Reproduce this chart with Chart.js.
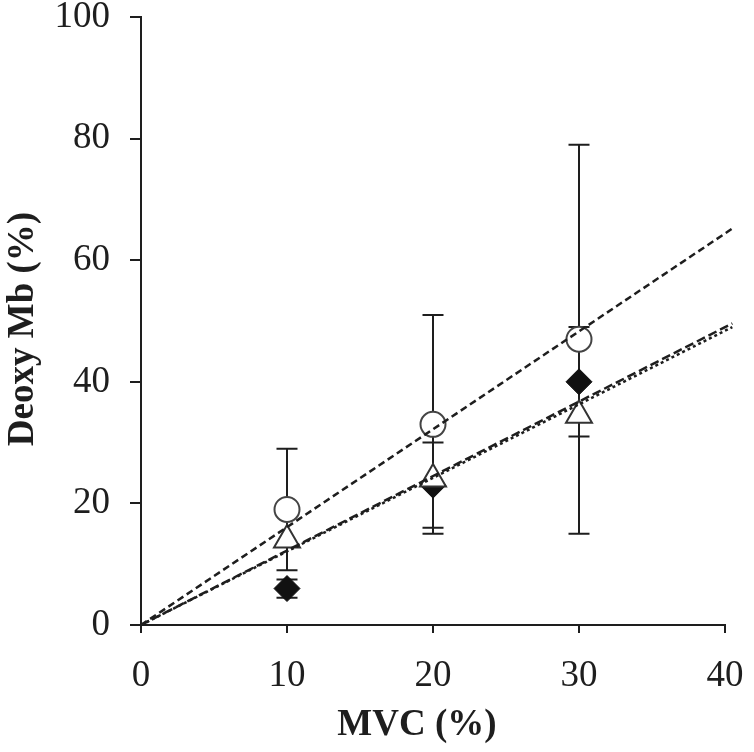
<!DOCTYPE html>
<html>
<head>
<meta charset="utf-8">
<script src="https://cdn.jsdelivr.net/npm/chart.js@4.4.1/dist/chart.umd.min.js"></script>
<style>
    body { margin: 0; background: #fff; }
    #wrap { width: 754px; height: 752px; }
</style>
</head>
<body>
<div id="wrap"><canvas id="mvcChart" width="754" height="752"></canvas></div>
<script>
// MVC levels (%)
const mvc = [10, 20, 30];

// Deoxy Mb (%) per series, with SD
const circleY = [19, 33, 47];
const circleErr = [10, 18, 32];
const triangleY = [14, 24, 34.5];
const diamondY = [6, 23, 40];
const diamondErr = [1.5, 7, 9];

// trend lines through the origin
const fitX = [0, 40.5];
const circleFit = [0, 65.2];
const diamondFit = [0, 49.6];
const triangleFit = [0, 49.0];

const xTitle = 'MVC (%)';
const yTitle = 'Deoxy Mb (%)';

const ink = '#1e1e1e';
const serif = "'Times New Roman', 'Liberation Serif', serif";

function pts(xs, ys) {
    return xs.map((x, i) => ({ x: x, y: ys[i] }));
}

// vertical error bars with caps, drawn under the markers
const errorBars = {
    id: 'errorBars',
    beforeDatasetsDraw(chart) {
        const ctx = chart.ctx;
        const xs = chart.scales.x;
        const ys = chart.scales.y;
        const sets = [[diamondY, diamondErr], [circleY, circleErr]];
        ctx.save();
        ctx.strokeStyle = ink;
        ctx.lineWidth = 2;
        sets.forEach(([vals, errs]) => {
            vals.forEach((v, i) => {
                const px = xs.getPixelForValue(mvc[i]);
                const top = ys.getPixelForValue(v + errs[i]);
                const bot = ys.getPixelForValue(v - errs[i]);
                ctx.beginPath();
                ctx.moveTo(px, top);
                ctx.lineTo(px, bot);
                ctx.moveTo(px - 10.5, top);
                ctx.lineTo(px + 10.5, top);
                ctx.moveTo(px - 10.5, bot);
                ctx.lineTo(px + 10.5, bot);
                ctx.stroke();
            });
        });
        ctx.restore();
    }
};

// axis titles sit a little off-centre toward the origin in the original
const axisTitles = {
    id: 'axisTitles',
    afterDraw(chart) {
        const ctx = chart.ctx;
        const area = chart.chartArea;
        ctx.save();
        ctx.fillStyle = ink;
        ctx.font = 'bold 37px ' + serif;
        ctx.textAlign = 'center';
        ctx.textBaseline = 'middle';
        ctx.fillText(xTitle, (area.left + area.right) / 2 - 16, 725);
        ctx.translate(23, (area.top + area.bottom) / 2 + 8);
        ctx.rotate(-Math.PI / 2);
        ctx.fillText(yTitle, 0, 0);
        ctx.restore();
    }
};

const ctx = document.getElementById('mvcChart').getContext('2d');
new Chart(ctx, {
    type: 'scatter',
    data: {
        datasets: [
            {
                label: 'circle fit',
                data: pts(fitX, circleFit),
                showLine: true,
                borderColor: ink,
                borderWidth: 2.5,
                borderDash: [7, 4],
                pointRadius: 0,
                clip: false,
                order: 0
            },
            {
                label: 'diamond fit',
                data: pts(fitX, diamondFit),
                showLine: true,
                borderColor: ink,
                borderWidth: 2.5,
                borderDash: [9, 4],
                pointRadius: 0,
                clip: false,
                order: 0
            },
            {
                label: 'triangle fit',
                data: pts(fitX, triangleFit),
                showLine: true,
                borderColor: ink,
                borderWidth: 2.5,
                borderDash: [3, 3],
                pointRadius: 0,
                clip: false,
                order: 0
            },
            {
                label: 'triangle',
                data: pts(mvc, triangleY),
                pointStyle: 'triangle',
                pointRadius: 15,
                pointBackgroundColor: '#fff',
                pointBorderColor: '#333',
                pointBorderWidth: 2,
                order: 1
            },
            {
                label: 'circle',
                data: pts(mvc, circleY),
                pointStyle: 'circle',
                pointRadius: 12.5,
                pointBackgroundColor: '#fff',
                pointBorderColor: '#444',
                pointBorderWidth: 2,
                order: 2
            },
            {
                label: 'diamond',
                data: pts(mvc, diamondY),
                pointStyle: 'rectRot',
                pointRadius: 13,
                pointBackgroundColor: '#111',
                pointBorderColor: '#111',
                pointBorderWidth: 1,
                order: 3
            }
        ]
    },
    options: {
        responsive: false,
        animation: false,
        layout: { padding: { top: 15, right: 29, bottom: 0, left: 0 } },
        plugins: {
            legend: { display: false },
            tooltip: { enabled: false }
        },
        scales: {
            x: {
                type: 'linear',
                min: 0,
                max: 40,
                ticks: {
                    stepSize: 10,
                    color: ink,
                    padding: 21,
                    font: { family: serif, size: 37 }
                },
                grid: { drawOnChartArea: false, tickLength: 8, color: ink, lineWidth: 2 },
                border: { color: ink, width: 2 },
                afterFit(scale) {
                    scale.height = 127;
                    scale.paddingLeft = 0;
                    scale.paddingRight = 0;
                }
            },
            y: {
                min: 0,
                max: 100,
                ticks: {
                    stepSize: 20,
                    color: ink,
                    padding: 20,
                    font: { family: serif, size: 37 }
                },
                grid: { drawOnChartArea: false, tickLength: 11, color: ink, lineWidth: 2 },
                border: { color: ink, width: 2 },
                afterFit(scale) {
                    scale.width = 141;
                    scale.paddingTop = 0;
                    scale.paddingBottom = 0;
                }
            }
        }
    },
    plugins: [errorBars, axisTitles]
});
</script>
</body>
</html>
